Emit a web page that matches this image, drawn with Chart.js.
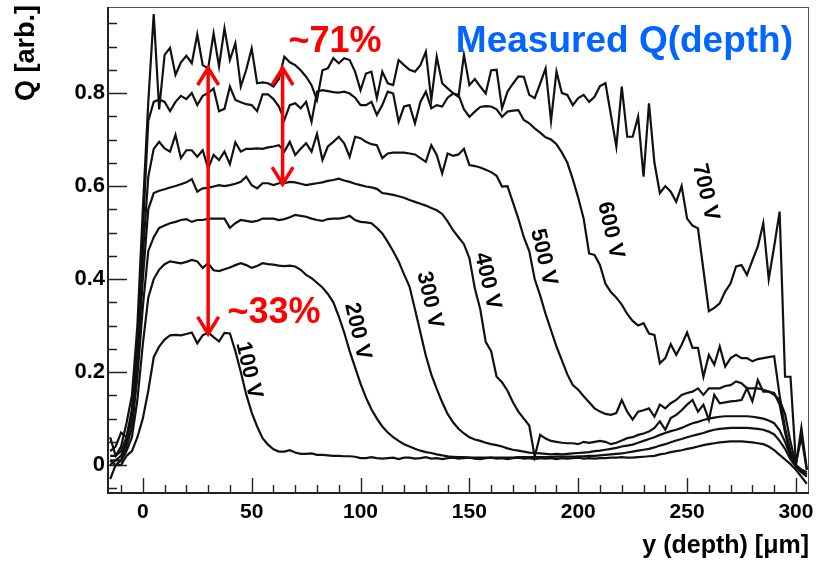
<!DOCTYPE html>
<html><head><meta charset="utf-8">
<script src="https://cdn.jsdelivr.net/npm/chart.js@4.4.0/dist/chart.umd.min.js"></script>
<style>html,body{margin:0;padding:0;background:#fff;}canvas{display:block;}</style>
</head><body>
<canvas id="c" width="817" height="563"></canvas>
<script>
// depth bins (µm)
const depth = [-15,-12.5,-10,-7.5,-5,-2.5,0,2.5,5,7.5,
  10,12.5,15,17.5,20,22.5,25,27.5,30,32.5,
  35,37.5,40,42.5,45,47.5,50,52.5,55,57.5,
  60,62.5,65,67.5,70,72.5,75,77.5,80,82.5,
  85,87.5,90,92.5,95,97.5,100,102.5,105,107.5,
  110,112.5,115,117.5,120,122.5,125,127.5,130,132.5,
  135,137.5,140,142.5,145,147.5,150,152.5,155,157.5,
  160,162.5,165,167.5,170,172.5,175,177.5,180,182.5,
  185,187.5,190,192.5,195,197.5,200,202.5,205,207.5,
  210,212.5,215,217.5,220,222.5,225,227.5,230,232.5,
  235,237.5,240,242.5,245,247.5,250,252.5,255,257.5,
  260,262.5,265,267.5,270,272.5,275,277.5,280,282.5,
  285,287.5,290,292.5,295,297.5,300,302.5,305];

const q100 = [0.01,0.00,0.00,0.02,0.03,0.06,0.10,0.16,0.232,0.255,
  0.270,0.279,0.280,0.279,0.282,0.285,0.262,0.279,0.285,0.275,
  0.266,0.284,0.283,0.245,0.200,0.152,0.113,0.083,0.058,0.044,
  0.034,0.029,0.029,0.032,0.027,0.024,0.024,0.025,0.022,0.022,
  0.021,0.020,0.020,0.019,0.019,0.018,0.015,0.015,0.017,0.015,
  0.014,0.015,0.016,0.013,0.016,0.016,0.014,0.015,0.017,0.014,
  0.015,0.013,0.015,0.016,0.014,0.015,0.016,0.014,0.013,0.015,
  0.016,0.014,0.015,0.013,0.015,0.016,0.014,0.015,0.013,0.015,
  0.014,0.015,0.013,0.015,0.014,0.015,0.016,0.014,0.015,0.014,
  0.015,0.015,0.016,0.016,0.017,0.016,0.016,0.017,0.018,0.019,
  0.020,0.023,0.025,0.028,0.030,0.032,0.035,0.037,0.040,0.043,
  0.045,0.047,0.049,0.050,0.051,0.051,0.051,0.050,0.049,0.047,
  0.045,0.040,0.032,0.022,0.012,0.002,-0.010,-0.025,-0.040];

const q200 = [-0.03,0.00,0.01,0.03,0.06,0.14,0.26,0.36,0.40,0.420,
  0.432,0.438,0.436,0.434,0.437,0.441,0.438,0.424,0.434,0.419,
  0.417,0.421,0.425,0.430,0.434,0.430,0.424,0.428,0.434,0.432,
  0.431,0.429,0.428,0.429,0.427,0.420,0.409,0.402,0.392,0.382,
  0.368,0.350,0.320,0.285,0.245,0.210,0.175,0.145,0.120,0.100,
  0.083,0.070,0.060,0.052,0.045,0.040,0.035,0.031,0.028,0.026,
  0.023,0.021,0.019,0.018,0.017,0.017,0.016,0.016,0.016,0.016,
  0.016,0.016,0.016,0.016,0.016,0.017,0.017,0.017,0.017,0.017,
  0.017,0.017,0.018,0.018,0.018,0.018,0.019,0.019,0.020,0.020,
  0.021,0.022,0.023,0.024,0.025,0.027,0.029,0.031,0.033,0.035,
  0.038,0.042,0.045,0.049,0.053,0.056,0.060,0.063,0.066,0.069,
  0.073,0.076,0.078,0.079,0.080,0.080,0.080,0.080,0.079,0.078,
  0.076,0.072,0.066,0.052,0.035,0.012,-0.003,-0.015,-0.025];

const q300 = [0.00,0.01,0.01,0.04,0.08,0.19,0.34,0.46,0.49,0.510,
  0.515,0.520,0.523,0.527,0.529,0.523,0.527,0.527,0.530,0.530,
  0.530,0.530,0.510,0.520,0.527,0.525,0.523,0.525,0.530,0.530,
  0.530,0.527,0.529,0.533,0.538,0.536,0.534,0.530,0.527,0.525,
  0.529,0.530,0.530,0.532,0.536,0.527,0.523,0.522,0.520,0.510,
  0.498,0.480,0.460,0.438,0.410,0.384,0.335,0.285,0.235,0.195,
  0.164,0.135,0.110,0.092,0.078,0.068,0.060,0.055,0.052,0.048,
  0.045,0.043,0.040,0.036,0.033,0.031,0.029,0.027,0.026,0.025,
  0.024,0.023,0.024,0.023,0.024,0.025,0.026,0.027,0.028,0.030,
  0.031,0.033,0.035,0.037,0.040,0.042,0.044,0.048,0.052,0.056,
  0.060,0.065,0.069,0.073,0.076,0.080,0.085,0.090,0.093,0.097,
  0.100,0.102,0.104,0.105,0.105,0.105,0.105,0.105,0.104,0.102,
  0.100,0.096,0.090,0.075,0.050,0.020,0.000,-0.010,-0.020];

const q400 = [0.01,0.01,0.02,0.05,0.10,0.22,0.40,0.55,0.585,0.590,
  0.593,0.597,0.600,0.604,0.608,0.615,0.588,0.595,0.596,0.599,
  0.602,0.600,0.602,0.605,0.609,0.620,0.602,0.595,0.606,0.606,
  0.602,0.606,0.606,0.609,0.608,0.605,0.602,0.604,0.606,0.608,
  0.611,0.613,0.616,0.612,0.609,0.605,0.602,0.599,0.597,0.594,
  0.585,0.583,0.581,0.578,0.575,0.570,0.566,0.562,0.558,0.553,
  0.548,0.540,0.524,0.505,0.490,0.475,0.445,0.380,0.335,0.265,
  0.245,0.190,0.178,0.160,0.135,0.115,0.100,0.085,0.018,0.065,
  0.057,0.052,0.050,0.048,0.047,0.047,0.045,0.050,0.048,0.050,
  0.052,0.050,0.045,0.048,0.053,0.058,0.060,0.065,0.068,0.072,
  0.080,0.094,0.076,0.101,0.108,0.118,0.130,0.140,0.115,0.130,
  0.097,0.151,0.133,0.135,0.137,0.138,0.140,0.165,0.137,0.183,
  0.158,0.158,0.155,0.130,0.070,0.020,0.000,-0.015,-0.020];

const q500 = [0.02,0.02,0.03,0.06,0.11,0.24,0.45,0.62,0.68,0.695,
  0.681,0.674,0.710,0.660,0.677,0.677,0.663,0.677,0.638,0.667,
  0.656,0.674,0.647,0.694,0.674,0.680,0.680,0.681,0.680,0.683,
  0.685,0.688,0.674,0.695,0.667,0.680,0.692,0.674,0.712,0.656,
  0.685,0.695,0.706,0.692,0.663,0.706,0.703,0.695,0.690,0.688,
  0.660,0.670,0.672,0.672,0.672,0.670,0.668,0.660,0.652,0.688,
  0.667,0.627,0.670,0.665,0.668,0.680,0.645,0.643,0.640,0.635,
  0.630,0.622,0.599,0.600,0.565,0.530,0.490,0.460,0.400,0.365,
  0.325,0.290,0.255,0.225,0.195,0.172,0.162,0.148,0.135,0.122,
  0.115,0.110,0.108,0.112,0.140,0.115,0.098,0.115,0.118,0.122,
  0.104,0.130,0.122,0.133,0.140,0.151,0.155,0.158,0.165,0.151,
  0.165,0.165,0.165,0.170,0.172,0.180,0.176,0.165,0.165,0.165,
  0.162,0.158,0.151,0.140,0.110,0.050,0.000,-0.010,-0.015];

const q600 = [0.03,0.04,0.07,0.06,0.12,0.27,0.50,0.74,0.781,0.786,
  0.781,0.761,0.781,0.794,0.787,0.800,0.774,0.794,0.800,0.810,
  0.761,0.766,0.814,0.785,0.780,0.776,0.774,0.761,0.797,0.797,
  0.787,0.771,0.742,0.774,0.778,0.767,0.781,0.738,0.803,0.806,
  0.804,0.802,0.801,0.803,0.799,0.790,0.774,0.774,0.781,0.753,
  0.774,0.803,0.799,0.738,0.771,0.774,0.735,0.781,0.803,0.767,
  0.774,0.771,0.790,0.799,0.796,0.765,0.749,0.760,0.770,0.772,
  0.771,0.765,0.749,0.760,0.762,0.763,0.742,0.735,0.724,0.715,
  0.705,0.700,0.690,0.672,0.650,0.615,0.575,0.530,0.455,0.452,
  0.430,0.390,0.372,0.360,0.345,0.325,0.310,0.300,0.305,0.283,
  0.280,0.219,0.230,0.260,0.237,0.259,0.285,0.252,0.252,0.190,
  0.237,0.216,0.255,0.212,0.230,0.237,0.230,0.230,0.223,0.228,
  0.230,0.232,0.234,0.150,0.080,0.030,0.000,0.080,-0.010];

const q700 = [0.06,0.02,0.04,0.09,0.15,0.30,0.55,0.78,0.97,0.765,
  0.882,0.897,0.839,0.866,0.880,0.864,0.926,0.860,0.853,0.928,
  0.857,0.939,0.871,0.907,0.814,0.850,0.896,0.821,0.823,0.821,
  0.814,0.830,0.878,0.866,0.860,0.849,0.835,0.817,0.785,0.849,
  0.853,0.875,0.864,0.875,0.871,0.846,0.806,0.842,0.846,0.789,
  0.846,0.821,0.817,0.871,0.860,0.850,0.846,0.860,0.889,0.785,
  0.878,0.821,0.810,0.800,0.792,0.882,0.817,0.830,0.814,0.799,
  0.849,0.850,0.767,0.803,0.820,0.836,0.835,0.796,0.789,0.820,
  0.853,0.740,0.846,0.800,0.796,0.774,0.789,0.796,0.781,0.792,
  0.815,0.821,0.753,0.685,0.814,0.706,0.706,0.749,0.620,0.778,
  0.650,0.585,0.600,0.588,0.566,0.600,0.530,0.515,0.509,0.420,
  0.331,0.338,0.348,0.373,0.391,0.427,0.430,0.409,0.440,0.470,
  0.520,0.400,0.470,0.545,0.190,0.190,0.004,0.060,-0.010];

const seriesNames = ['100 V','200 V','300 V','400 V','500 V','600 V','700 V'];
const seriesValues = [q100,q200,q300,q400,q500,q600,q700];
const xTickValues = [0,50,100,150,200,250,300];
const yTickValues = [0,0.2,0.4,0.6,0.8];

const titleText = 'Measured Q(depth)';
const xTitle = 'y (depth) [\u03BCm]';
const yTitle = 'Q [arb.]';

// annotation placement (data coordinates)
const labelSpots = [[48.6,0.204],[98.6,0.288],[131.7,0.355],[158.3,0.396],[184,0.447],[214.8,0.505],[258.4,0.587]];
const arrows = [{x:30, y1:0.28, y2:0.856},{x:64.2, y1:0.602, y2:0.856}];
const notes = [{text:'~71%', x:66.9, y:0.888},{text:'~33%', x:38.9, y:0.305}];

const FONT = '"Liberation Sans", Arial, Helvetica, sans-serif';

const decor = {
  id: 'decor',
  afterDatasetsDraw(chart) {
    const {ctx, chartArea: a, scales: {x, y}} = chart;
    ctx.save();
    // frame
    ctx.strokeStyle = '#555';
    ctx.lineWidth = 1;
    ctx.strokeRect(a.left + 0.5, a.top + 0.5, a.right - a.left - 1, a.bottom - a.top - 1);
    ctx.strokeStyle = '#222';
    ctx.lineWidth = 2;
    ctx.beginPath();
    ctx.moveTo(a.left, a.top); ctx.lineTo(a.left, a.bottom); ctx.lineTo(a.right, a.bottom);
    ctx.stroke();
    // ticks (inside)
    ctx.lineWidth = 1.4;
    ctx.beginPath();
    for (let k = -1; k <= 19; k++) {
      const v = k * 0.05;
      const py = Math.round(y.getPixelForValue(v)) + 0.5;
      if (py < a.top || py > a.bottom) continue;
      const len = (k % 4 === 0) ? 19 : 9;
      ctx.moveTo(a.left, py); ctx.lineTo(a.left + len, py);
    }
    for (let k = -1; k <= 30; k++) {
      const v = k * 10;
      const px = Math.round(x.getPixelForValue(v)) + 0.5;
      if (px < a.left || px > a.right) continue;
      const len = (k % 5 === 0) ? 15 : 8;
      ctx.moveTo(px, a.bottom); ctx.lineTo(px, a.bottom - len);
    }
    ctx.stroke();

    // voltage labels
    ctx.fillStyle = '#000';
    ctx.font = 'bold 22px ' + FONT;
    ctx.textAlign = 'center';
    ctx.textBaseline = 'middle';
    labelSpots.forEach((p, i) => {
      ctx.save();
      ctx.translate(x.getPixelForValue(p[0]), y.getPixelForValue(p[1]));
      ctx.rotate(77 * Math.PI / 180);
      ctx.fillText(seriesNames[i], 0, 0);
      ctx.restore();
    });

    // arrows
    ctx.strokeStyle = '#ff0000';
    ctx.lineWidth = 3.5;
    ctx.lineCap = 'butt';
    arrows.forEach(ar => {
      const px = x.getPixelForValue(ar.x);
      const pt = y.getPixelForValue(ar.y2);
      const pb = y.getPixelForValue(ar.y1);
      ctx.beginPath();
      ctx.moveTo(px, pt); ctx.lineTo(px, pb);
      ctx.moveTo(px - 10.5, pt + 18); ctx.lineTo(px, pt + 1); ctx.lineTo(px + 10.5, pt + 18);
      ctx.moveTo(px - 10.5, pb - 18); ctx.lineTo(px, pb - 1); ctx.lineTo(px + 10.5, pb - 18);
      ctx.stroke();
    });
    ctx.fillStyle = '#ff0000';
    ctx.font = 'bold 36px ' + FONT;
    ctx.textAlign = 'left';
    ctx.textBaseline = 'alphabetic';
    notes.forEach(n => ctx.fillText(n.text, x.getPixelForValue(n.x), y.getPixelForValue(n.y)));

    // title
    ctx.fillStyle = '#0066ff';
    ctx.font = 'bold 37px ' + FONT;
    ctx.textAlign = 'right';
    ctx.fillText(titleText, a.right - 16, a.top + 45);

    // axis titles
    ctx.fillStyle = '#000';
    ctx.font = 'bold 25px ' + FONT;
    ctx.textAlign = 'right';
    ctx.fillText(xTitle, a.right, a.bottom + 60);
    ctx.save();
    ctx.font = 'bold 27px ' + FONT;
    ctx.translate(34, a.top - 2);
    ctx.rotate(-Math.PI / 2);
    ctx.textAlign = 'right';
    ctx.fillText(yTitle, 0, 0);
    ctx.restore();
    ctx.restore();
  }
};

const datasets = seriesValues.map((vals, i) => ({
  label: seriesNames[i],
  data: vals.map((v, j) => ({x: depth[j], y: v})),
  borderColor: '#111',
  borderWidth: 2.2,
  pointRadius: 0,
  tension: 0,
  fill: false
}));

const noPad = s => { s.paddingTop = 0; s.paddingBottom = 0; s.paddingLeft = 0; s.paddingRight = 0; };

new Chart(document.getElementById('c'), {
  type: 'line',
  data: {datasets},
  options: {
    responsive: false,
    animation: false,
    devicePixelRatio: 1,
    layout: {padding: {top: 7, right: 8, left: 0, bottom: 0}},
    plugins: {legend: {display: false}, tooltip: {enabled: false}},
    scales: {
      x: {
        type: 'linear', min: -16, max: 306,
        grid: {display: false, drawTicks: false},
        border: {display: false},
        afterBuildTicks: s => { s.ticks = xTickValues.map(v => ({value: v})); },
        afterFit: s => { s.height = 70; noPad(s); },
        ticks: {color: '#000', font: {family: FONT, size: 21, weight: 'bold'}, padding: 7, maxRotation: 0,
          callback: v => String(v)}
      },
      y: {
        type: 'linear', min: -0.06, max: 0.985,
        grid: {display: false, drawTicks: false},
        border: {display: false},
        afterBuildTicks: s => { s.ticks = yTickValues.map(v => ({value: v})); },
        afterFit: s => { s.width = 108; noPad(s); },
        ticks: {color: '#000', font: {family: FONT, size: 22, weight: 'bold'}, padding: 3,
          callback: v => v === 0 ? '0' : v.toFixed(1)}
      }
    }
  },
  plugins: [decor]
});
</script>
</body></html>
